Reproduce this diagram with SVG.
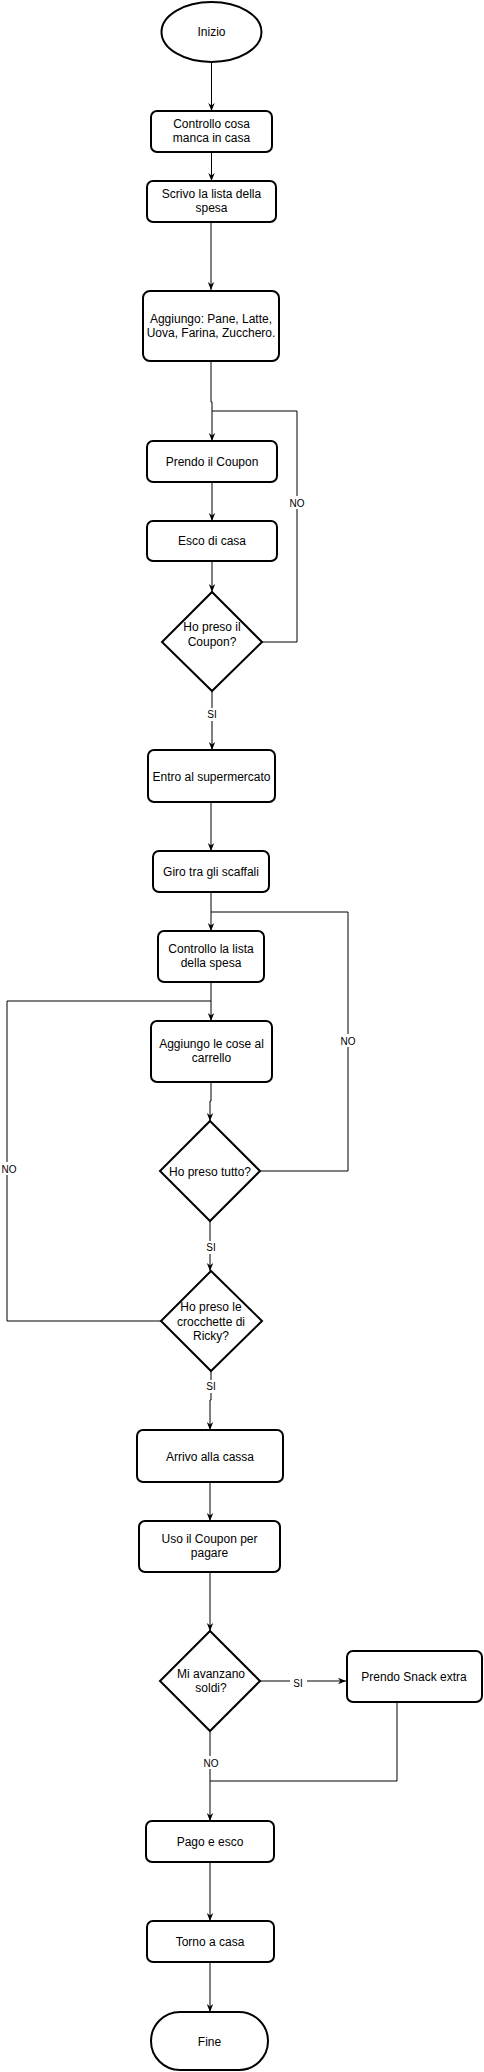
<svg xmlns="http://www.w3.org/2000/svg" width="484" height="2072" viewBox="0 0 484 2072">
<style>
.n{fill:#fff;stroke:#000;stroke-width:2}
.t{font-family:"Liberation Sans",Arial,sans-serif;font-size:12px;fill:#000;text-anchor:middle}
.c{fill:none;stroke:#000;stroke-width:1}
.a{marker-end:url(#arr)}
.lb{fill:#fff}
.l{font-family:"Liberation Sans",Arial,sans-serif;font-size:10px;fill:#000;text-anchor:middle}
</style>
<defs>
<marker id="arr" viewBox="0 0 10 10" refX="10" refY="5" markerWidth="8" markerHeight="8" markerUnits="userSpaceOnUse" orient="auto">
<path d="M0,1 L10,5 L0,9 L3,5 z" fill="#000"/>
</marker>
</defs>
<rect width="484" height="2072" fill="#fff"/>
<g id="connectors">
<path class="c a" d="M211.5,62 V111"/>
<path class="c a" d="M211.5,152 V181"/>
<path class="c a" d="M211,222 V290"/>
<path class="c a" d="M211,361 V402 H212 V441"/>
<path class="c" d="M262,642 H297 V411 H212"/>
<path class="c a" d="M212,482 V521"/>
<path class="c a" d="M212,561 V592"/>
<path class="c a" d="M212,691 V750"/>
<path class="c a" d="M211,802 V851"/>
<path class="c a" d="M211,892 V931"/>
<path class="c" d="M260,1171 H348 V912 H211"/>
<path class="c a" d="M211,982 V1021"/>
<path class="c" d="M161,1321 H7 V1001 H211"/>
<path class="c a" d="M211,1082 V1101 H210 V1121"/>
<path class="c a" d="M210,1221 V1271"/>
<path class="c a" d="M211,1371 V1400 H210 V1430"/>
<path class="c a" d="M210,1482 V1521"/>
<path class="c a" d="M210,1572 V1631"/>
<path class="c a" d="M260,1681 H346"/>
<path class="c" d="M397,1702 V1781 H210"/>
<path class="c a" d="M210,1731 V1821"/>
<path class="c a" d="M210,1862 V1921"/>
<path class="c a" d="M210,1962 V2012"/>
<rect class="lb" x="285" y="496" width="24" height="13"/><text class="l" x="297" y="506.5">NO</text>
<rect class="lb" x="203" y="708" width="18" height="13"/><text class="l" x="212" y="718">SI</text>
<rect class="lb" x="336" y="1034" width="24" height="13"/><text class="l" x="348" y="1044.5">NO</text>
<rect class="lb" x="0" y="1162" width="19" height="13"/><text class="l" x="9" y="1172.5">NO</text>
<rect class="lb" x="202" y="1241" width="18" height="13"/><text class="l" x="211" y="1251">SI</text>
<rect class="lb" x="202" y="1380" width="18" height="13"/><text class="l" x="211" y="1390">SI</text>
<rect class="lb" x="290" y="1677" width="17" height="13"/><text class="l" x="298" y="1687">SI</text>
<rect class="lb" x="199" y="1756" width="24" height="13"/><text class="l" x="211" y="1766.5">NO</text>
</g>
<g id="inizio"><ellipse class="n" cx="211.5" cy="32" rx="50" ry="30"/><text class="t" x="211.5" y="36">Inizio</text></g>
<g id="controllo-casa"><rect class="n" x="151" y="111" width="121" height="41" rx="6"/><text class="t" x="211.5" y="128">Controllo cosa</text><text class="t" x="211.5" y="142">manca in casa</text></g>
<g id="scrivo-lista"><rect class="n" x="147" y="181" width="129" height="41" rx="6"/><text class="t" x="211.5" y="198">Scrivo la lista della</text><text class="t" x="211.5" y="212">spesa</text></g>
<g id="aggiungo-lista"><rect class="n" x="143" y="291" width="136" height="70" rx="7"/><text class="t" x="211" y="323">Aggiungo: Pane, Latte,</text><text class="t" x="211" y="337">Uova, Farina, Zucchero.</text></g>
<g id="prendo-coupon"><rect class="n" x="147" y="441" width="130" height="41" rx="6"/><text class="t" x="212" y="466">Prendo il Coupon</text></g>
<g id="esco-casa"><rect class="n" x="147" y="521" width="130" height="40" rx="6"/><text class="t" x="212" y="545">Esco di casa</text></g>
<g id="coupon-dec"><polygon class="n" points="212,592 262,642 212,691 162,642"/><text class="t" x="212" y="631">Ho preso il</text><text class="t" x="212" y="646">Coupon?</text></g>
<g id="entro"><rect class="n" x="148" y="750" width="127" height="52" rx="6"/><text class="t" x="211.5" y="781">Entro al supermercato</text></g>
<g id="giro"><rect class="n" x="153" y="851" width="116" height="41" rx="6"/><text class="t" x="211" y="876">Giro tra gli scaffali</text></g>
<g id="controllo-lista"><rect class="n" x="158" y="931" width="106" height="51" rx="6"/><text class="t" x="211" y="953">Controllo la lista</text><text class="t" x="211" y="967">della spesa</text></g>
<g id="aggiungo-carrello"><rect class="n" x="151" y="1021" width="121" height="61" rx="6"/><text class="t" x="211.5" y="1048">Aggiungo le cose al</text><text class="t" x="211.5" y="1062">carrello</text></g>
<g id="tutto-dec"><polygon class="n" points="210,1121 260,1171 210,1221 160,1171"/><text class="t" x="210" y="1176">Ho preso tutto?</text></g>
<g id="ricky-dec"><polygon class="n" points="211,1271 262,1321 211,1371 161,1321"/><text class="t" x="211" y="1311">Ho preso le</text><text class="t" x="211" y="1326">crocchette di</text><text class="t" x="211" y="1340">Ricky?</text></g>
<g id="cassa"><rect class="n" x="137" y="1430" width="146" height="52" rx="6"/><text class="t" x="210" y="1461">Arrivo alla cassa</text></g>
<g id="uso-coupon"><rect class="n" x="139" y="1521" width="141" height="51" rx="6"/><text class="t" x="209.5" y="1543">Uso il Coupon per</text><text class="t" x="209.5" y="1557">pagare</text></g>
<g id="soldi-dec"><polygon class="n" points="210,1631 260,1681 210,1731 160,1681"/><text class="t" x="211" y="1678">Mi avanzano</text><text class="t" x="211" y="1692">soldi?</text></g>
<g id="snack"><rect class="n" x="347" y="1651" width="135" height="51" rx="6"/><text class="t" x="414" y="1681">Prendo Snack extra</text></g>
<g id="pago"><rect class="n" x="146" y="1821" width="128" height="41" rx="6"/><text class="t" x="210" y="1846">Pago e esco</text></g>
<g id="torno"><rect class="n" x="147" y="1921" width="127" height="41" rx="6"/><text class="t" x="210" y="1946">Torno a casa</text></g>
<g id="fine"><rect class="n" x="151" y="2012" width="117" height="58" rx="29"/><text class="t" x="209.5" y="2046">Fine</text></g>
</svg>
